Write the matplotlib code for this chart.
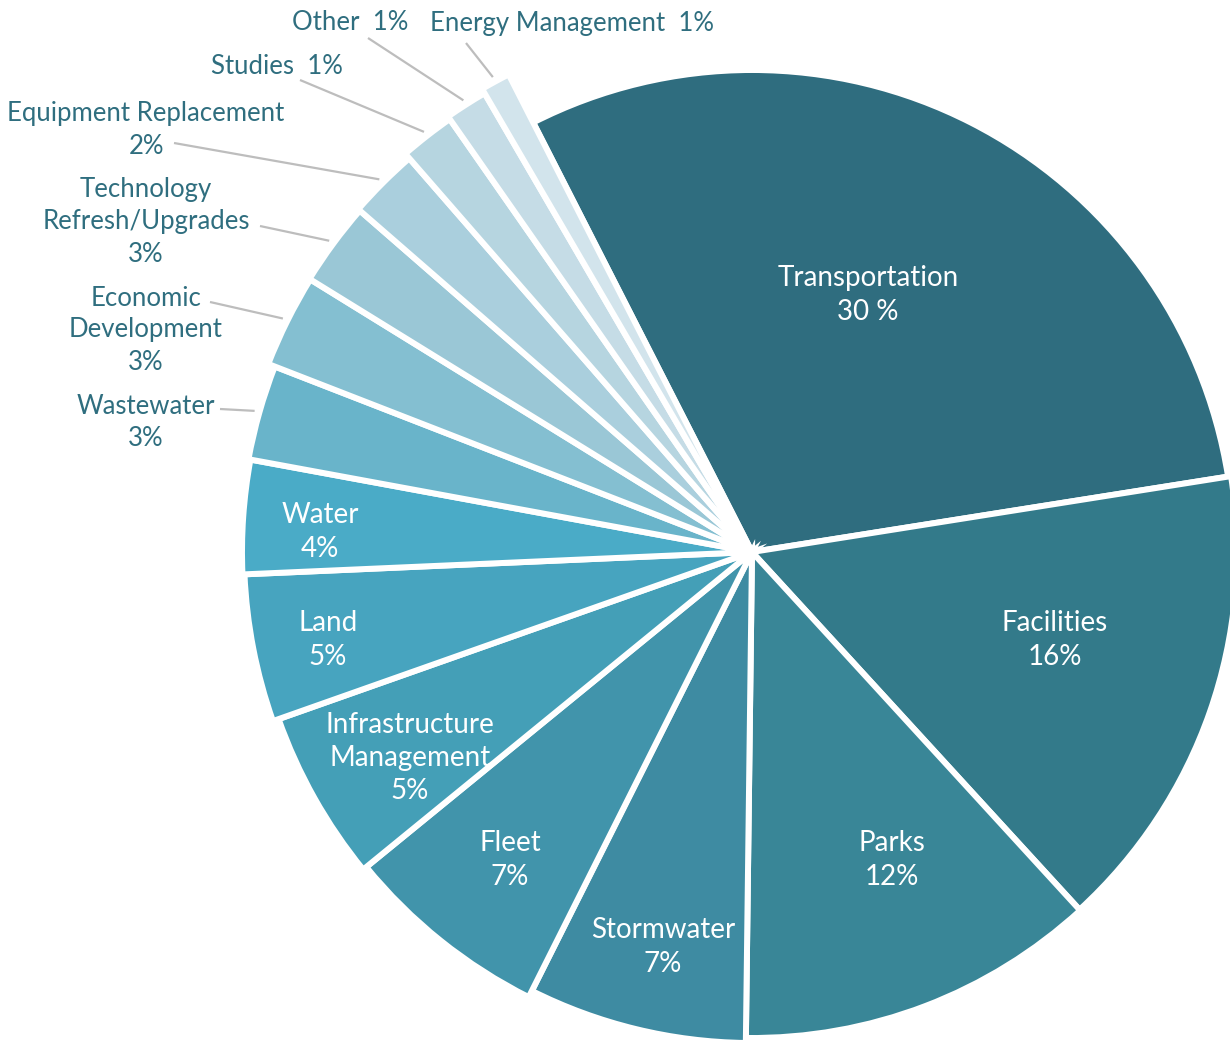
import matplotlib
matplotlib.use("Agg")
import matplotlib.pyplot as plt
import numpy as np

plt.rcParams['font.family'] = ['Lato', 'DejaVu Sans']

# ---- data ----
categories = ["Transportation", "Facilities", "Parks", "Stormwater", "Fleet",
              "Infrastructure\nManagement", "Land", "Water", "Wastewater",
              "Economic\nDevelopment", "Technology\nRefresh/Upgrades",
              "Equipment Replacement", "Studies", "Other", "Energy Management"]
values = [30.0, 15.7, 12.0, 7.2, 6.7, 5.5, 4.7, 3.6, 3.0, 2.9, 2.6, 2.2, 1.7, 1.3, 0.9]
pct_labels = ["30 %", "16%", "12%", "7%", "7%", "5%", "5%", "4%", "3%", "3%",
              "3%", "2%", "1%", "1%", "1%"]

# ---- style / layout ----
colors = ["#2f6d7f", "#337a8a", "#398697", "#3e8ba2", "#4194ab", "#449fb7",
          "#47a4bf", "#4aabc7", "#69b4ca", "#84bfd1", "#9ac7d6", "#aacfdd",
          "#b6d5e0", "#c5dce6", "#d2e4ec"]
radii = [482, 485, 486, 491, 498, 502, 508, 510, 512, 519, 520, 522, 528, 531, 536]
W, H = 1230, 1040
CX, CY = 752, 552          # pie centre in pixel coords (y down)
TEXT_COL = "#2f6e7f"
LINE_COL = "#bdbdbd"
FS_IN = 20
FS_OUT = 18.5

# label layout (pixel coords, y down)
inner_text_pos = [(868, 295), (1055, 640), (892, 860), (663, 947), (510, 860),
                  (410, 758), (328, 640), (320, 532)]
outer_text_pos = {8: (146, 422), 9: (146, 330), 10: (146, 222), 11: (146, 130),
                  12: (277, 67), 13: (350, 23), 14: (572, 23)}
outer_line_start = {8: (220, 409), 9: (210, 302), 10: (260, 226), 11: (174, 143),
                    12: (300, 80), 13: (368, 38), 14: (466, 43)}
outer_text = {8: "Wastewater\n3%", 9: "Economic\nDevelopment\n3%",
              10: "Technology\nRefresh/Upgrades\n3%", 11: "Equipment Replacement\n2%",
              12: "Studies  1%", 13: "Other  1%", 14: "Energy Management  1%"}


def P(x, y):
    return (x, H - y)


fig = plt.figure(figsize=(W / 100, H / 100), dpi=100)
ax = fig.add_axes([0, 0, 1, 1])

wedges, _ = ax.pie(values, colors=colors, startangle=117, counterclock=False,
                   center=P(CX, CY), radius=480,
                   wedgeprops=dict(edgecolor="white", linewidth=4.3))
for w, r in zip(wedges, radii):
    w.set_radius(r)

ax.set_xlim(0, W)
ax.set_ylim(0, H)
ax.set_aspect('equal')
ax.axis('off')

cx, cy = P(CX, CY)
for i, w in enumerate(wedges):
    mid = np.deg2rad((w.theta1 + w.theta2) / 2)
    if i < len(inner_text_pos):
        x, y = P(*inner_text_pos[i])
        ax.text(x, y, f"{categories[i]}\n{pct_labels[i]}", ha="center", va="center",
                color="white", fontsize=FS_IN, fontweight="normal",
                linespacing=1.35, multialignment="center")
    else:
        r_end = w.r + 5
        ex, ey = cx + r_end * np.cos(mid), cy + r_end * np.sin(mid)
        sx, sy = P(*outer_line_start[i])
        ax.plot([sx, ex], [sy, ey], color=LINE_COL, lw=1.6, solid_capstyle="butt")
        tx, ty = P(*outer_text_pos[i])
        ax.text(tx, ty, outer_text[i], ha="center", va="center", color=TEXT_COL,
                fontsize=FS_OUT, fontweight="normal", linespacing=1.35,
                multialignment="center")

fig.savefig("out.png", dpi=100, facecolor="white")
